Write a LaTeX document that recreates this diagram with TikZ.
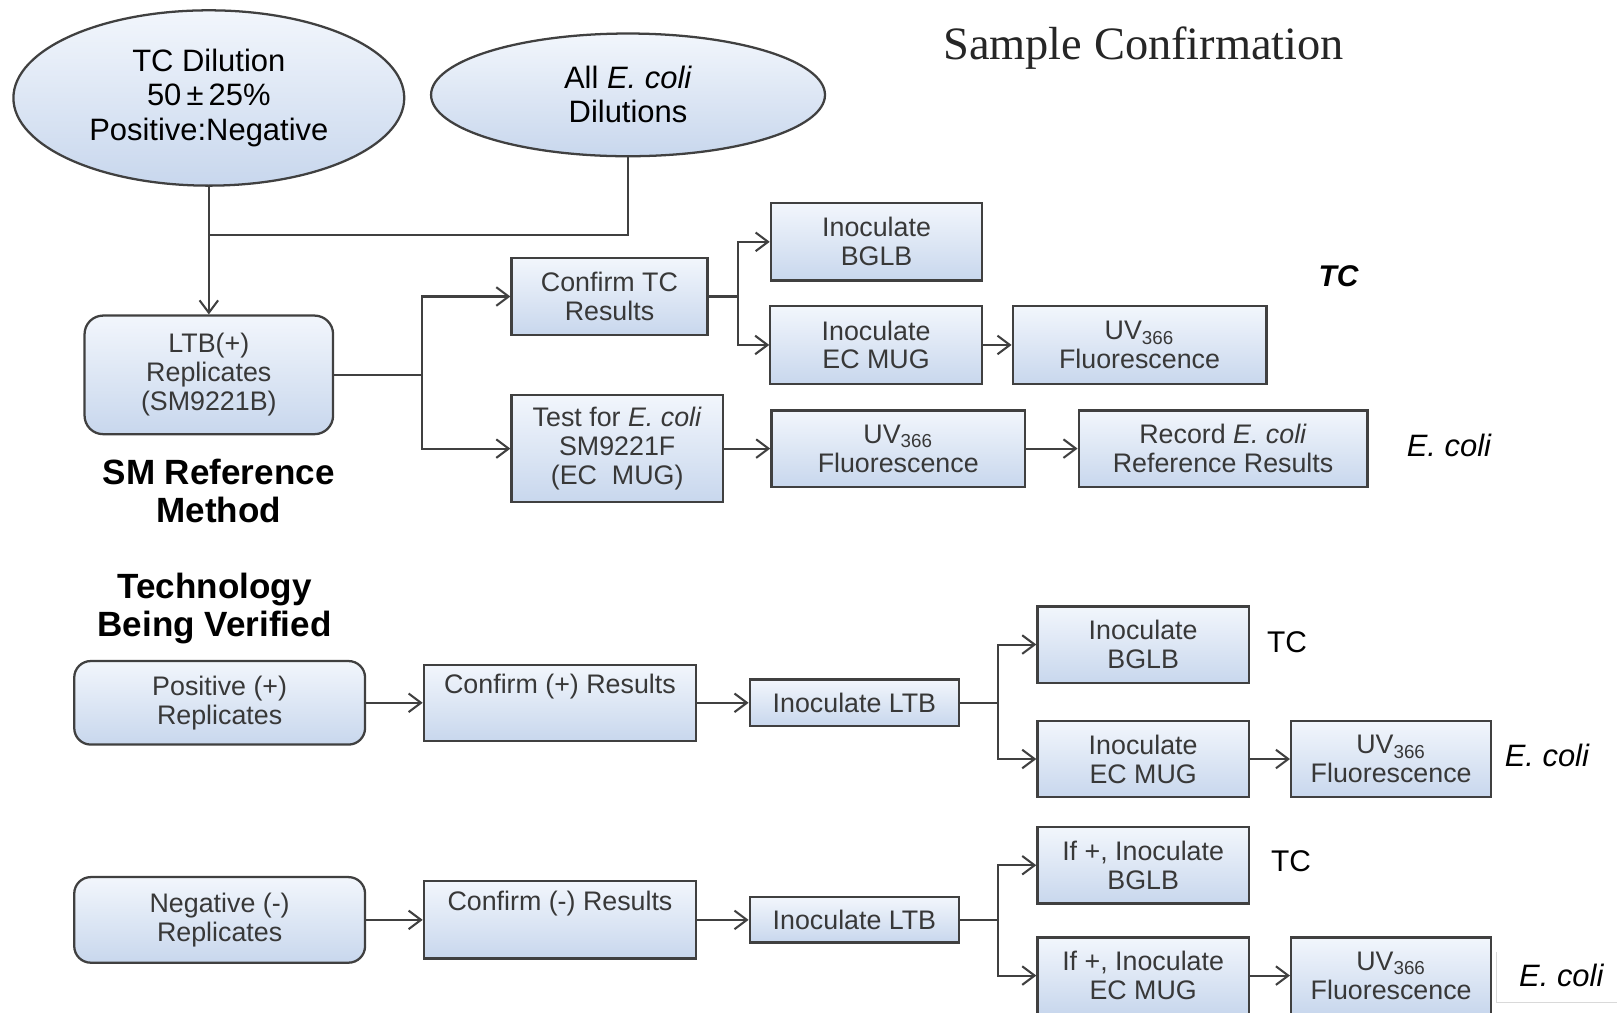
\documentclass[tikz,border=0pt]{standalone}
\usepackage{fontspec}
\setmainfont{Liberation Sans}
\newfontfamily\titlefont{Liberation Serif}
\usetikzlibrary{arrows.meta,shapes.geometric}
\definecolor{boxtop}{HTML}{F2F6FC}
\definecolor{boxbot}{HTML}{C8D7ED}
\definecolor{edge}{HTML}{404040}
\definecolor{txt}{HTML}{383838}
\begin{document}
\begin{tikzpicture}[x=0.5pt,y=-0.5pt,
 sz/.style 2 args={minimum width=#1*0.5pt, minimum height=#2*0.5pt},
 boxbase/.style={draw=edge, line width=1.1pt, top color=boxtop, bottom color=boxbot,
   align=center, inner sep=0pt, font=\fontsize{13}{14}\selectfont, text=txt},
 sqbox/.style={boxbase},
 rbox/.style={boxbase, rounded corners=8pt},
 ell/.style={boxbase, ellipse, font=\fontsize{15}{16.5}\selectfont, text=black},
 conn/.style={draw=edge, line width=1pt},
 arr/.style={conn, -{Straight Barb[length=6pt,width=9pt,line width=1pt]}},
 heading/.style={font=\bfseries\fontsize{17}{18.5}\selectfont, align=center, text=black},
 lab/.style={font=\fontsize{14.5}{16}\selectfont, text=black, inner sep=0pt}
]
\useasboundingbox (0,0) rectangle (1568,982);
\fill[white] (0,0) rectangle (1568,982);
\clip (0,0) rectangle (1568,982);

% title
\node (title) at (1109,47) {\titlefont\fontsize{22.5}{24}\selectfont\color{black!85}Sample Confirmation};

% top section
\node[ell, sz={379}{170}] (e1) at (202.5,95) {TC Dilution\\50\,±\,25\%\\Positive:Negative};
\node[ell, sz={382}{119}] (e2) at (609,92) {All \textit{E. coli}\\Dilutions};
\node[rbox, sz={241}{115}, rounded corners=9pt] (ltb) at (202.5,363.5) {LTB(+)\\Replicates\\(SM9221B)};
\node[heading] (smref) at (212,476) {SM Reference\\Method};

\node[sqbox, sz={190}{75}] (ctc) at (591,287.5) {Confirm TC\\Results};
\node[sqbox, sz={205}{104}] (tec) at (598.5,435) {Test for \textit{E. coli}\\SM9221F\\(EC\ \ MUG)};
\node[sqbox, sz={205}{75}] (bglb1) at (850,234.5) {Inoculate\\BGLB};
\node[sqbox, sz={205}{75}] (ecmug1) at (849.5,334.5) {Inoculate\\EC MUG};
\node[sqbox, sz={246}{75}] (uv1) at (1105,334.5) {UV\textsubscript{366}\\Fluorescence};
\node[sqbox, sz={246}{74}] (uv2) at (871,435) {UV\textsubscript{366}\\Fluorescence};
\node[sqbox, sz={280}{74}] (rec) at (1186,435) {Record \textit{E. coli}\\Reference Results};
\node[lab, font=\bfseries\itshape\fontsize{14.5}{16}\selectfont] (tcA) at (1298,268) {TC};
\node[lab, font=\itshape\fontsize{15}{16}\selectfont] (ecA) at (1405,432) {E. coli};

\coordinate (jA) at (202.5,228);
\draw[arr] (e1.south) -- (ltb.north);
\draw[conn] (e2.south) |- (jA);
\coordinate (jB) at (409,363.5);
\draw[conn] (ltb.east) -- (jB);
\draw[arr] (jB) |- (ctc.west);
\draw[arr] (jB) |- (tec.west);
\coordinate (jC) at (716,287.5);
\draw[conn] (ctc.east) -- (jC);
\draw[arr] (jC) |- (bglb1.west);
\draw[arr] (jC) |- (ecmug1.west);
\draw[arr] (ecmug1.east) -- (uv1.west);
\draw[arr] (tec.east) -- (uv2.west);
\draw[arr] (uv2.east) -- (rec.west);

% technology section
\node[heading] (tbv) at (208,590) {Technology\\Being Verified};

\node[rbox, sz={282}{81}] (pos) at (213,681.5) {Positive (+)\\Replicates};
\node[sqbox, sz={264}{74}] (cplus) at (543,681.5) {Confirm (+) Results\\\strut};
\node[sqbox, sz={203}{45}] (ltbA) at (828.5,681.5) {Inoculate LTB};
\node[sqbox, sz={205}{74}] (bglb2) at (1108.5,625) {Inoculate\\BGLB};
\node[sqbox, sz={205}{74}] (ecmug2) at (1108.5,736) {Inoculate\\EC MUG};
\node[sqbox, sz={194}{74}] (uv3) at (1349,736) {UV\textsubscript{366}\\Fluorescence};
\node[lab] (tcB) at (1248,623) {TC};
\node[lab, font=\itshape\fontsize{15}{16}\selectfont] (ecB) at (1500,733) {E. coli};

\draw[arr] (pos.east) -- (cplus.west);
\draw[arr] (cplus.east) -- (ltbA.west);
\coordinate (jD) at (968,681.5);
\draw[conn] (ltbA.east) -- (jD);
\draw[arr] (jD) |- (bglb2.west);
\draw[arr] (jD) |- (ecmug2.west);
\draw[arr] (ecmug2.east) -- (uv3.west);

\node[rbox, sz={282}{83}] (neg) at (213,892) {Negative (-)\\Replicates};
\node[sqbox, sz={264}{75}] (cminus) at (543,892) {Confirm (-) Results\\\strut};
\node[sqbox, sz={203}{44}] (ltbB) at (828.5,892) {Inoculate LTB};
\node[sqbox, sz={205}{74}] (bglb3) at (1108.5,839) {If +, Inoculate\\BGLB};
\node[sqbox, sz={205}{74}] (ecmug3) at (1108.5,946) {If +, Inoculate\\EC MUG};
\node[sqbox, sz={194}{74}] (uv4) at (1349,946) {UV\textsubscript{366}\\Fluorescence};
\node[lab] (tcC) at (1252,835) {TC};
\node[lab, font=\itshape\fontsize{15}{16}\selectfont] (ecC) at (1514,946) {E. coli};
\draw[black!15, line width=0.6pt] (1451,923) -- (1451,972) -- (1568,972);

\draw[arr] (neg.east) -- (cminus.west);
\draw[arr] (cminus.east) -- (ltbB.west);
\coordinate (jE) at (968,892);
\draw[conn] (ltbB.east) -- (jE);
\draw[arr] (jE) |- (bglb3.west);
\draw[arr] (jE) |- (ecmug3.west);
\draw[arr] (ecmug3.east) -- (uv4.west);
\end{tikzpicture}
\end{document}
